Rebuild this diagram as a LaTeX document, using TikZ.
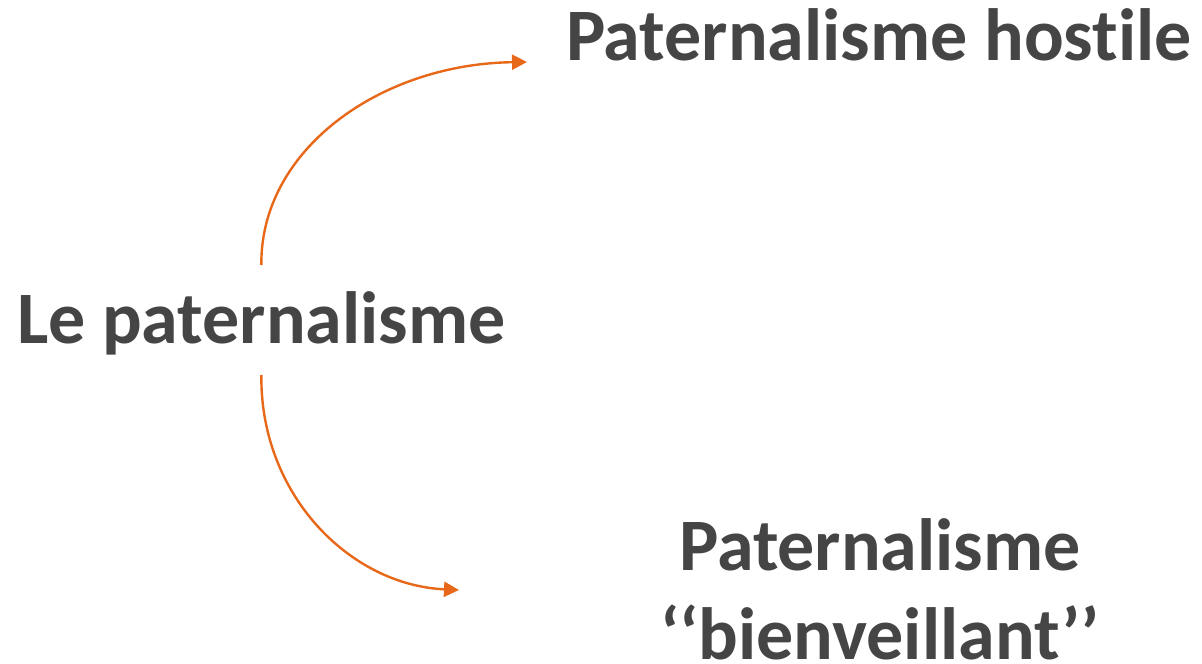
\documentclass[tikz,border=0pt]{standalone}
\usepackage{fontspec}
\setmainfont[Ligatures=NoCommon]{Carlito}
\usetikzlibrary{arrows.meta}
\definecolor{txt}{HTML}{454545}
\definecolor{orng}{HTML}{E8681A}
\tikzset{
  lbl/.style={font=\fontsize{74bp}{88bp}\selectfont\bfseries, text=txt, inner sep=0pt, outer sep=0pt},
  conn/.style={draw=orng, line width=2.4bp, -{Triangle[length=15bp,width=15bp]}}
}
\begin{document}
\begin{tikzpicture}[x=1bp,y=-1bp]
\useasboundingbox (0,0) rectangle (1202,664);
\node[lbl, anchor=base west] (lp) at (17,343) {Le paternalisme};
\node[lbl, anchor=base west] (ph) at (566,61) {Paternalisme hostile};
\node[lbl, anchor=base] (pb1) at (880,570) {Paternalisme};
\node[lbl, anchor=base, text depth=0pt] (pb2) at (880,659) {‘‘bienveillant’’};
\coordinate (s1) at (lp.north |- 0,265);
\coordinate (s2) at (lp.north |- 0,375);
\coordinate (t1) at (527,62);
\coordinate (t2) at (459,590);
\draw[conn] (s1) .. controls (260,150) and (380,64) .. (t1);
\draw[conn] (s2) .. controls (260,495) and (350,585) .. (t2);
\end{tikzpicture}
\end{document}
